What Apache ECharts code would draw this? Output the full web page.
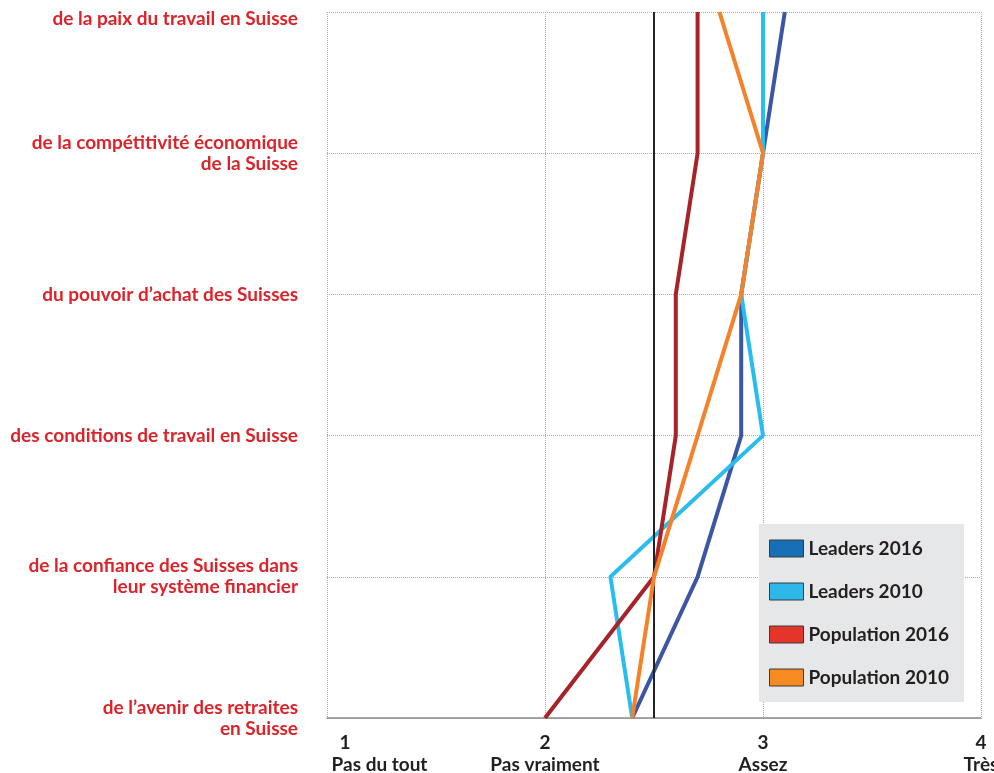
<!DOCTYPE html>
<html><head><meta charset="utf-8">
<script src="https://cdn.jsdelivr.net/npm/echarts@6/dist/echarts.min.js"></script>
<style>html,body{margin:0;padding:0;background:#fff}#c{width:994px;height:773px}</style>
</head><body><div id="c"></div>
<script>
const categories = [
  'de la paix du travail en Suisse',
  'de la compétitivité économique\nde la Suisse',
  'du pouvoir d\u2019achat des Suisses',
  'des conditions de travail en Suisse',
  'de la confiance des Suisses dans\nleur système financier',
  'de l\u2019avenir des retraites\nen Suisse'
];
const seriesNames = ['Leaders 2016', 'Leaders 2010', 'Population 2016', 'Population 2010'];
const leaders2016 = [3.1, 3.0, 2.9, 2.9, 2.7, 2.4];
const leaders2010 = [3.0, 3.0, 2.9, 3.0, 2.3, 2.4];
const population2016 = [2.7, 2.7, 2.6, 2.6, 2.5, 2.0];
const population2010 = [2.8, 3.0, 2.9, 2.7, 2.5, 2.4];
const xTickValues = [1, 2, 3, 4];
const xTickNames = ['Pas du tout', 'Pas vraiment', 'Assez', 'Très'];
const referenceValue = 2.5;

const lineColors = ['#3a56a5', '#28bdee', '#a8222a', '#f5822a'];
const swatchColors = ['#166fb7', '#2eb8e9', '#e4352a', '#f58b21'];
const allData = [leaders2016, leaders2010, population2016, population2010];
const FONT = 'Lato';
const FS = 19;

const series = seriesNames.map((name, i) => ({
  name: name,
  type: 'line',
  symbol: 'none',
  data: allData[i],
  lineStyle: { color: lineColors[i], width: 4 },
  itemStyle: { color: swatchColors[i] },
  z: 2 + i
}));
series.push({
  name: 'ref', type: 'line', data: [], z: 10,
  markLine: {
    silent: true, symbol: 'none', label: { show: false },
    lineStyle: { color: '#222', width: 2, type: 'solid' },
    data: [{ xAxis: referenceValue }]
  }
});

const txt = { fontFamily: FONT, fontWeight: 'bold', fontSize: FS, color: '#231f20', lineHeight: 22 };

const chart = echarts.init(document.getElementById('c'), null, { renderer: 'canvas' });
chart.setOption({
  animation: false,
  backgroundColor: '#fff',
  grid: { left: 327, right: 13, top: 12, bottom: 55, outerBoundsMode: 'none', containLabel: false },
  legend: {
    data: seriesNames,
    orient: 'vertical',
    left: 759, top: 524,
    backgroundColor: '#e6e7e8',
    padding: [15, 15, 15, 10],
    icon: 'rect',
    itemWidth: 34, itemHeight: 17, itemGap: 24,
    itemStyle: { borderColor: '#3a3a3a', borderWidth: 1 },
    textStyle: { fontFamily: FONT, fontWeight: 'bold', fontSize: FS, color: '#231f20' },
    selectedMode: false
  },
  xAxis: {
    type: 'value', min: 1, max: 4, interval: 1,
    axisLine: { show: true, lineStyle: { color: '#8a8a8a', width: 1.5 } },
    axisTick: { show: false },
    splitLine: { show: true, lineStyle: { color: '#aaaaaa', type: 'dotted', width: 1 } },
    axisLabel: {
      margin: 14,
      formatter: function (v) {
        const idx = xTickValues.indexOf(v);
        if (idx < 0) return '';
        if (idx === 0) return '{a1|' + v + '}\n{b1|' + xTickNames[idx] + '}';
        return '{a|' + v + '}\n{b|' + xTickNames[idx] + '}';
      },
      rich: {
        a: txt,
        b: txt,
        a1: Object.assign({}, txt, { padding: [0, 0, 0, 36] }),
        b1: Object.assign({}, txt, { padding: [0, 0, 0, 105] })
      }
    }
  },
  yAxis: {
    type: 'category', inverse: true, boundaryGap: false,
    data: categories,
    axisLine: { show: false },
    axisTick: { show: false },
    splitLine: { show: true, lineStyle: { color: '#aaaaaa', type: 'dotted', width: 1 } },
    axisLabel: {
      margin: 29,
      fontFamily: FONT, fontWeight: 'bold', fontSize: FS, lineHeight: 21,
      color: '#dc2329', align: 'right',
      formatter: function (v, i) { return i === 0 ? '{t|' + v + '}' : v; },
      rich: {
        t: { fontFamily: FONT, fontWeight: 'bold', fontSize: FS, lineHeight: 21, color: '#dc2329', padding: [13, 0, 0, 0] }
      }
    }
  },
  series: series
});
</script>
</body></html>
